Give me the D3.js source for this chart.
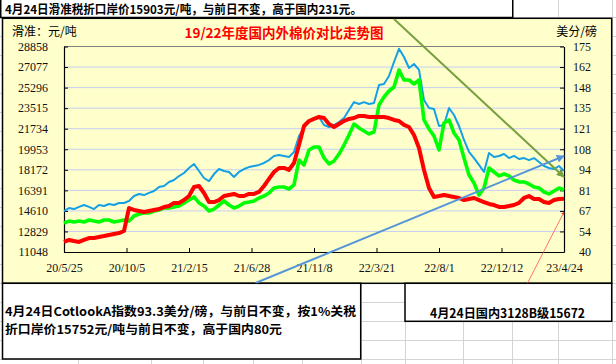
<!DOCTYPE html>
<html><head><meta charset="utf-8">
<script src="https://cdn.jsdelivr.net/npm/d3@7"></script>
<style>body{margin:0;background:#fff}svg{display:block}</style>
</head><body><svg id="c" width="616" height="364"></svg>
<script>
// ---- data ----
const tickDates = ["20/5/25","20/10/5","21/2/15","21/6/28","21/11/8","22/3/21","22/8/1","22/12/12","23/4/24"];
const leftTicks = [11048,12829,14610,16391,18172,19953,21734,23515,25296,27077,28858];
const rightTicks = [40,54,67,81,94,108,121,135,148,162,175];
// Cotlook A index (美分/磅, right axis)
const cotlookA = [66.9,68.9,68.2,69.6,70.9,69.6,68.2,70.9,70.2,71.5,70.9,72.2,72.2,73.5,76.8,78.1,77.4,78.8,80.1,82.7,
  83.4,86.0,87.3,89.9,91.9,95.2,97.8,93.2,88.6,86.6,91.2,94.5,93.2,92.6,89.3,92.6,94.5,95.8,96.5,97.2,
  98.5,100.4,103.1,103.7,103.1,102.4,105.7,116.2,121.5,126.1,127.4,128.7,123.4,122.1,123.4,125.4,128.0,133.3,138.5,137.2,
  138.5,137.2,137.9,149.7,150.4,155.6,164.8,173.5,168.1,160.9,163.5,159.6,139.8,134.6,133.9,122.8,123.4,134.6,130.0,122.8,
  113.6,105.7,101.7,97.2,92.6,105.0,102.4,103.1,104.4,101.7,103.1,101.1,101.7,100.4,101.7,99.1,96.5,95.2,94.5,96.5,93.3];
// 1%关税折口岸价 (元/吨, left axis)
const importPrice = [13560,13730,13650,13730,13650,13820,13730,13650,13820,13820,13650,13730,13820,13730,14170,14340,14430,14430,14600,14690,
  14860,14860,14950,15030,15300,15550,15820,15300,15030,14600,14770,15120,15470,15120,14860,15030,15300,15380,15470,15730,
  15900,16160,16600,16680,16680,16510,16860,19020,18590,19890,20150,20150,19200,18680,18940,19540,20320,21190,22140,21800,
  21540,21280,21450,23790,24480,25000,25350,26820,25960,25960,25610,25960,22490,21710,21100,19890,22230,22490,21360,20760,
  19200,17720,17030,15990,16600,18330,17980,17640,17810,17640,17290,17120,17120,16940,16680,16600,16250,16080,16340,16600,16420];
// 国内3128B (元/吨, left axis)
const domestic3128B = [11920,12090,12000,11920,12090,12260,12260,12350,12430,12520,12610,12690,12870,14860,14690,14600,14510,14600,14690,14770,
  14950,15030,15300,15300,15550,15900,16680,16770,16160,15380,15380,15550,15900,15990,16080,15900,15900,16080,16080,16250,
  16770,17380,17980,18330,18330,18160,18760,20320,21970,22400,22580,22750,22660,22140,21880,22140,22400,22580,22660,22840,
  22840,22750,22750,22750,22750,22660,22490,22400,22060,21880,21190,20060,18160,16600,15820,15900,15990,15900,15820,15730,
  15550,15640,15730,15550,15380,15210,15120,14950,14950,15030,15120,15300,15730,15900,15640,15640,15380,15300,15550,15640,15672];
// annotation arrows, in (sample index, 元/吨)
const downTrend = [[66,31240],[100,17550]];
const upTrend = [[38.3,8360],[100,19370]];
const pointer = [[92.4,8100],[100,14515]];

// ---- layout ----
const svg = d3.select("#c");
const P = {l:64, r:564, t:46.5, b:252};
const cjk = "'Noto Sans CJK SC', sans-serif";
const num = "'Liberation Serif', serif";

// spreadsheet grid
const cols = [78,151,203,253,302,361,405,463,512,558,612];
const rows = d3.range(0,19).map(k => 17 + 19*k);
const grid = svg.append("g").attr("stroke","#d4d4d4").attr("stroke-width",1);
cols.forEach(c => grid.append("line").attr("x1",c+0.5).attr("x2",c+0.5).attr("y1",0).attr("y2",364));
rows.forEach(r => grid.append("line").attr("y1",r+0.5).attr("y2",r+0.5).attr("x1",0).attr("x2",616));

// top text box
svg.append("rect").attr("x",0.75).attr("y",-2).attr("width",512).attr("height",19.5)
  .attr("fill","#fff").attr("stroke","#000").attr("stroke-width",1.5);
svg.append("text").attr("x",5).attr("y",14).attr("font-family",cjk).attr("font-weight","bold")
  .attr("font-size",12).attr("textLength",357).attr("lengthAdjust","spacingAndGlyphs")
  .attr("fill","#000").text("4月24日滑准税折口岸价15903元/吨，与前日不变，高于国内231元。");

// chart box
svg.append("rect").attr("x",2.5).attr("y",18.3).attr("width",609.2).attr("height",265)
  .attr("fill","#ffffcc").attr("stroke","#000").attr("stroke-width",1.5);

// bottom boxes
svg.append("rect").attr("x",2.5).attr("y",283.3).attr("width",358.2).attr("height",75.7)
  .attr("fill","#fff").attr("stroke","#000").attr("stroke-width",1.5);
svg.append("rect").attr("x",405).attr("y",283.3).attr("width",206.7).attr("height",38)
  .attr("fill","#fff").attr("stroke","#000").attr("stroke-width",1.5);
svg.append("text").attr("x",5).attr("y",316).attr("font-family",cjk).attr("font-weight","bold")
  .attr("font-size",12).attr("textLength",351).attr("lengthAdjust","spacingAndGlyphs")
  .text("4月24日CotlookA指数93.3美分/磅，与前日不变，按1%关税");
svg.append("text").attr("x",5).attr("y",334).attr("font-family",cjk).attr("font-weight","bold")
  .attr("font-size",12).attr("textLength",277).attr("lengthAdjust","spacingAndGlyphs")
  .text("折口岸价15752元/吨与前日不变，高于国内80元");
svg.append("text").attr("x",507.5).attr("y",317.5).attr("text-anchor","middle").attr("font-family",cjk)
  .attr("font-weight","bold").attr("font-size",12.5).attr("textLength",155).attr("lengthAdjust","spacingAndGlyphs")
  .text("4月24日国内3128B级15672");

// scales
const n = cotlookA.length;
const x = d3.scaleLinear().domain([0, n-1]).range([P.l, P.r]);
const yL = d3.scaleLinear().domain([leftTicks[0], leftTicks[leftTicks.length-1]]).range([P.b, P.t]);
const yR = d3.scaleLinear().domain([rightTicks[0], rightTicks[rightTicks.length-1]]).range([P.b, P.t]);

// gridlines
svg.append("g").selectAll("line").data(leftTicks.slice(1, -1)).join("line")
  .attr("x1",P.l).attr("x2",P.r).attr("y1",d=>yL(d)).attr("y2",d=>yL(d))
  .attr("stroke","#c6cef2").attr("stroke-width",1);
svg.append("line").attr("x1",P.l).attr("x2",P.r).attr("y1",P.t).attr("y2",P.t)
  .attr("stroke","#808080").attr("stroke-width",1.2);

// axes
function styleAxis(g){
  g.select(".domain").attr("stroke","#000").attr("stroke-width",1.2);
  g.selectAll(".tick line").attr("stroke","#000");
  g.selectAll("text").attr("font-family",num).attr("font-size",12).attr("fill","#111");
}
svg.append("g").attr("transform",`translate(${P.l},0)`)
  .call(d3.axisLeft(yL).tickValues(leftTicks).tickSizeInner(-4).tickSizeOuter(0).tickPadding(16).tickFormat(d=>d))
  .call(styleAxis);
const rightPos = d3.range(rightTicks.length).map(k => yR.domain()[0] + k*(yR.domain()[1]-yR.domain()[0])/(rightTicks.length-1));
const gR = svg.append("g").attr("transform",`translate(${P.r},0)`)
  .call(d3.axisRight(yR).tickValues(rightPos)
    .tickSizeInner(-4).tickSizeOuter(0).tickPadding(27).tickFormat((d,i)=>rightTicks[i]))
  .call(styleAxis);
gR.selectAll("text").attr("text-anchor","end");
svg.append("g").attr("transform",`translate(0,${P.b})`)
  .call(d3.axisBottom(x).tickValues(tickDates.map((d,i)=>i*(n-1)/(tickDates.length-1)))
    .tickSizeInner(-4).tickSizeOuter(0).tickPadding(11).tickFormat((d,i)=>tickDates[i]))
  .call(styleAxis);

// axis titles & chart title
svg.append("text").attr("x",12).attr("y",35.5).attr("font-family",cjk).attr("font-size",12).text("滑准：元/吨");
svg.append("text").attr("x",597).attr("y",35.5).attr("text-anchor","end").attr("font-family",cjk).attr("font-size",12).text("美分/磅");
svg.append("text").attr("x",284).attr("y",37.5).attr("text-anchor","middle").attr("font-family",cjk)
  .attr("font-weight","bold").attr("font-size",13.5).attr("fill","#ff0000").text("19/22年度国内外棉价对比走势图");

// series
const lineL = d3.line().x((d,i)=>x(i)).y(d=>yL(d));
const lineR = d3.line().x((d,i)=>x(i)).y(d=>yR(d));
svg.append("path").datum(cotlookA).attr("d",lineR).attr("fill","none").attr("stroke","#14a0e6")
  .attr("stroke-width",2).attr("stroke-linejoin","round");
svg.append("path").datum(importPrice).attr("d",lineL).attr("fill","none").attr("stroke","#00ff00")
  .attr("stroke-width",3.6).attr("stroke-linejoin","round");
svg.append("path").datum(domestic3128B).attr("d",lineL).attr("fill","none").attr("stroke","#ff0000")
  .attr("stroke-width",4).attr("stroke-linejoin","round");

// annotation arrows
const defs = svg.append("defs");
defs.append("clipPath").attr("id","box").append("rect").attr("x",2.5).attr("y",18.3).attr("width",609.2).attr("height",265);
[["olive","#76a03e"],["blue","#5596d8"],["red","#ff3030"]].forEach(([id,c])=>{
  defs.append("marker").attr("id","m-"+id).attr("viewBox","0 0 10 10").attr("refX",9).attr("refY",5)
    .attr("markerWidth",4).attr("markerHeight",4).attr("orient","auto")
    .append("path").attr("d","M0,0L10,5L0,10z").attr("fill",c);
});
const ann = svg.append("g").attr("clip-path","url(#box)");
const annLine = d3.line().x(d=>x(d[0])).y(d=>yL(d[1]));
ann.append("path").attr("d",annLine(downTrend)).attr("stroke","#76a03e").attr("stroke-width",2).attr("fill","none").attr("marker-end","url(#m-olive)");
ann.append("path").attr("d",annLine(upTrend)).attr("stroke","#5596d8").attr("stroke-width",2).attr("fill","none").attr("marker-end","url(#m-blue)");
ann.append("path").attr("d",annLine(pointer)).attr("stroke","#ff5050").attr("stroke-width",0.8).attr("fill","none").attr("marker-end","url(#m-red)");
</script></body></html>
